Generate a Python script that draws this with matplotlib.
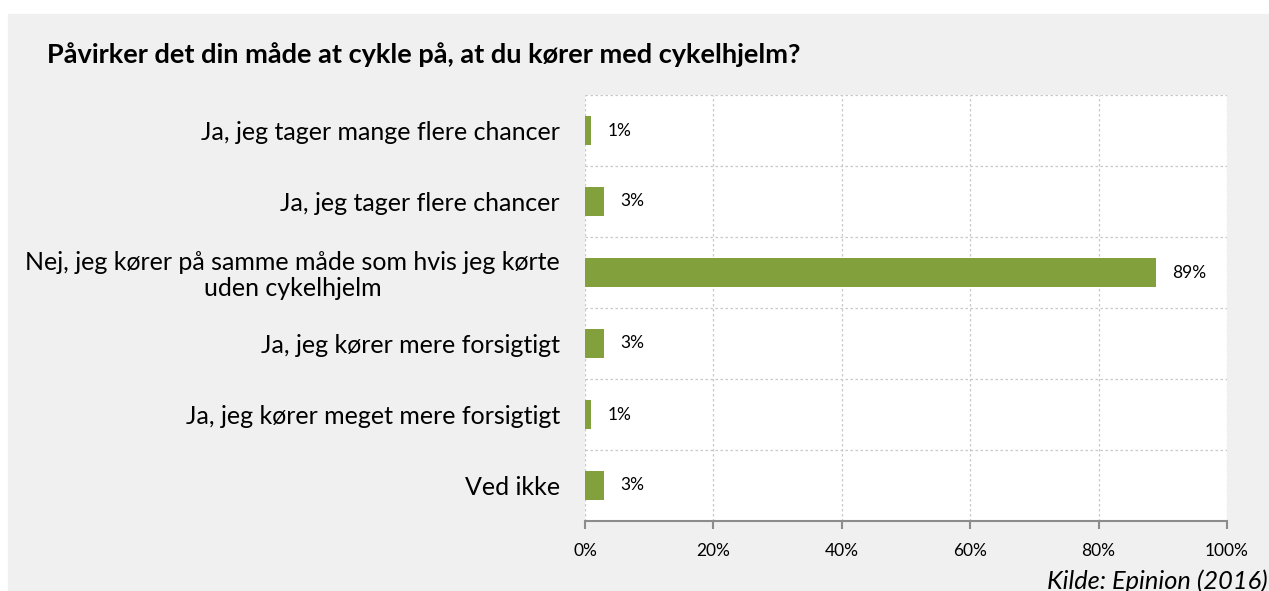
import numpy as np
import matplotlib.pyplot as plt
from matplotlib.ticker import FuncFormatter, MultipleLocator

plt.rcParams['font.family'] = ['Lato', 'DejaVu Sans']

categories = [
    "Ja, jeg tager mange flere chancer",
    "Ja, jeg tager flere chancer",
    "Nej, jeg kører på samme måde som hvis jeg kørte\nuden cykelhjelm",
    "Ja, jeg kører mere forsigtigt",
    "Ja, jeg kører meget mere forsigtigt",
    "Ved ikke",
]
values = [1, 3, 89, 3, 1, 3]

title = "Påvirker det din måde at cykle på, at du kører med cykelhjelm?"
source = "Kilde: Epinion (2016)"

BAR_COLOR = '#82A03C'
BG = '#F0F0F0'

fig = plt.figure(figsize=(12.69, 5.91), dpi=100)
fig.patch.set_facecolor('white')
# grey panel behind everything
fig.patches.append(plt.Rectangle((8 / 1269, 0), 1, 1 - 14 / 591,
                                 transform=fig.transFigure, color=BG, zorder=-1))

ax = fig.add_axes([585 / 1269, 1 - 521 / 591, (1227 - 585) / 1269, (521 - 95) / 591])
ax.set_facecolor('white')

y = np.arange(len(categories))
ax.barh(y, values, height=0.4, color=BAR_COLOR, zorder=3)
for yi, v in zip(y, values):
    ax.text(v + 2.5, yi, f"{v}%", va='center', ha='left', fontsize=12.5, color='#000000')

ax.set_xlim(0, 100)
ax.set_ylim(len(categories) - 0.5, -0.5)
ax.xaxis.set_major_locator(MultipleLocator(20))
ax.xaxis.set_major_formatter(FuncFormatter(lambda x, p: f"{x:.0f}%"))
ax.set_yticks(y)
ax.set_yticklabels(categories, fontsize=18, linespacing=1.15)
ax.set_yticks(np.arange(-0.5, len(categories), 1), minor=True)
ax.tick_params(axis='y', which='both', length=0, pad=18)
ax.tick_params(axis='x', length=6, width=1.5, color='#8C8C8C', pad=10, labelsize=12.5)
for lab in ax.get_yticklabels():
    lab.set_horizontalalignment('right')
    lab.set_multialignment('center')

ax.grid(axis='x', which='major', linestyle=(0, (2, 2)), color='#C8C8C8', linewidth=0.9, zorder=0)
ax.grid(axis='y', which='minor', linestyle=(0, (2, 2)), color='#C8C8C8', linewidth=0.9, zorder=0)

for s in ['top', 'right', 'left']:
    ax.spines[s].set_visible(False)
ax.spines['bottom'].set_color('#8C8C8C')
ax.spines['bottom'].set_linewidth(1.5)

fig.text(47 / 1269, 1 - 55 / 591, title, fontsize=19.5, fontweight='bold', va='center', ha='left')
fig.text(1268 / 1269, 1 - 581 / 591, source, fontsize=18.3, style='italic', va='center', ha='right')

fig.savefig('out.png', dpi=100, facecolor=fig.get_facecolor())
